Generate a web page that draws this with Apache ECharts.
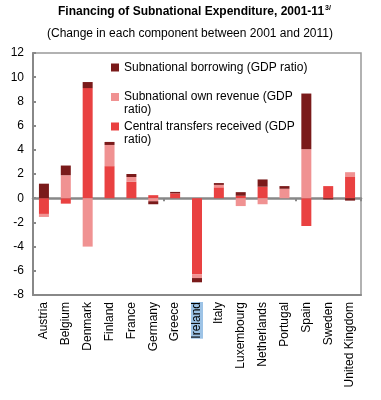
<!DOCTYPE html>
<html>
<head>
<meta charset="utf-8">
<script src="https://cdn.jsdelivr.net/npm/echarts@6/dist/echarts.min.js"></script>
<style>html,body{margin:0;padding:0;background:#fff}#c{width:381px;height:400px}</style>
</head>
<body>
<div id="c"></div>
<script>
var categories = ['Austria','Belgium','Denmark','Finland','France','Germany','Greece','Ireland','Italy','Luxembourg','Netherlands','Portugal','Spain','Sweden','United Kingdom'];
var centralTransfers = [-1.3, -0.45, 9.1, 2.65, 1.35, 0.25, 0.4, -6.3, 0.9, 0.2, 0.95, 0, -2.3, 1.0, 1.8];
var ownRevenue = [-0.25, 1.9, -4.0, 1.75, 0.4, -0.25, 0, -0.3, 0.2, -0.65, -0.5, 0.78, 4.05, 0, 0.35];
var borrowing = [1.2, 0.8, 0.5, 0.25, 0.25, -0.25, 0.12, -0.35, 0.15, 0.3, 0.6, 0.22, 4.6, -0.1, -0.2];
var yTicks = {min: -8, max: 12, interval: 2};

var names = {
  borrow: 'Subnational borrowing (GDP ratio)',
  own: 'Subnational own revenue (GDP ratio)',
  central: 'Central transfers received (GDP ratio)'
};
var FONT = 'Liberation Sans, Arial, sans-serif';
var AX = '#888888';
var chart = echarts.init(document.getElementById('c'), null, {renderer: 'canvas'});
function legendCfg(name, top) {
  return {
    show: true, data: [name], left: 111, top: top, padding: 0,
    itemWidth: 8, itemHeight: 8, icon: 'rect', selectedMode: false,
    formatter: function (n) {
      if (n === names.own) return '\nSubnational own revenue (GDP\nratio)';
      if (n === names.central) return '\nCentral transfers received (GDP\nratio)';
      return n;
    },
    textStyle: {fontFamily: FONT, fontSize: 12, color: '#000', lineHeight: 13}
  };
}
chart.setOption({
  animation: false,
  textStyle: {fontFamily: FONT},
  title: [
    {text: '{t|Financing of Subnational Expenditure, 2001-11}{s|3/}', left: 58, top: 5, padding: 0,
     textStyle: {rich: {t: {fontFamily: FONT, fontSize: 12, fontWeight: 'bold', color: '#000'},
                         s: {fontFamily: FONT, fontSize: 7, fontWeight: 'bold', color: '#000', verticalAlign: 'top', padding: [0,0,6,1]}}}},
    {text: '(Change in each component between 2001 and 2011)', left: 47, top: 28, padding: 0,
     textStyle: {fontFamily: FONT, fontSize: 12, fontWeight: 'normal', color: '#000'}}
  ],
  legend: [
    legendCfg(names.borrow, 61),
    legendCfg(names.own, 77.5),
    legendCfg(names.central, 107)
  ],
  grid: {left: 33, right: 20, top: 53, bottom: 105, show: true, borderColor: '#999', borderWidth: 1.5, backgroundColor: 'transparent'},
  xAxis: [
    {type: 'category', data: categories, position: 'bottom',
     axisLine: {onZero: false, lineStyle: {color: AX, width: 2}},
     axisTick: {show: false},
     axisLabel: {rotate: 90, interval: 0, margin: 7, fontSize: 12, color: '#000', fontFamily: FONT,
       formatter: function (v) { return v === 'Ireland' ? '{h|Ireland}' : v; },
       rich: {h: {backgroundColor: '#9DC3E6', fontSize: 12, fontFamily: FONT, color: '#000', padding: [0, 0, 0, 0]}}}},
    {type: 'category', data: categories,
     axisLine: {onZero: true, lineStyle: {color: AX, width: 2.5}},
     axisTick: {show: true, inside: true, length: 3, lineStyle: {color: AX, width: 2}},
     axisLabel: {show: false}}
  ],
  yAxis: {type: 'value', min: yTicks.min, max: yTicks.max, interval: yTicks.interval,
    axisLine: {show: true, lineStyle: {color: AX, width: 2}},
    axisTick: {show: true, inside: true, length: 3, lineStyle: {color: AX, width: 2}},
    splitLine: {show: false},
    axisLabel: {fontSize: 12, color: '#000', margin: 9, fontFamily: FONT}},
  series: [
    {name: names.central, type: 'bar', stack: 's', data: centralTransfers, barWidth: 10, itemStyle: {color: '#E94141'}},
    {name: names.own, type: 'bar', stack: 's', data: ownRevenue, barWidth: 10, itemStyle: {color: '#F09292'}},
    {name: names.borrow, type: 'bar', stack: 's', data: borrowing, barWidth: 10, itemStyle: {color: '#7A1A1A'}}
  ]
});
</script>
</body>
</html>
